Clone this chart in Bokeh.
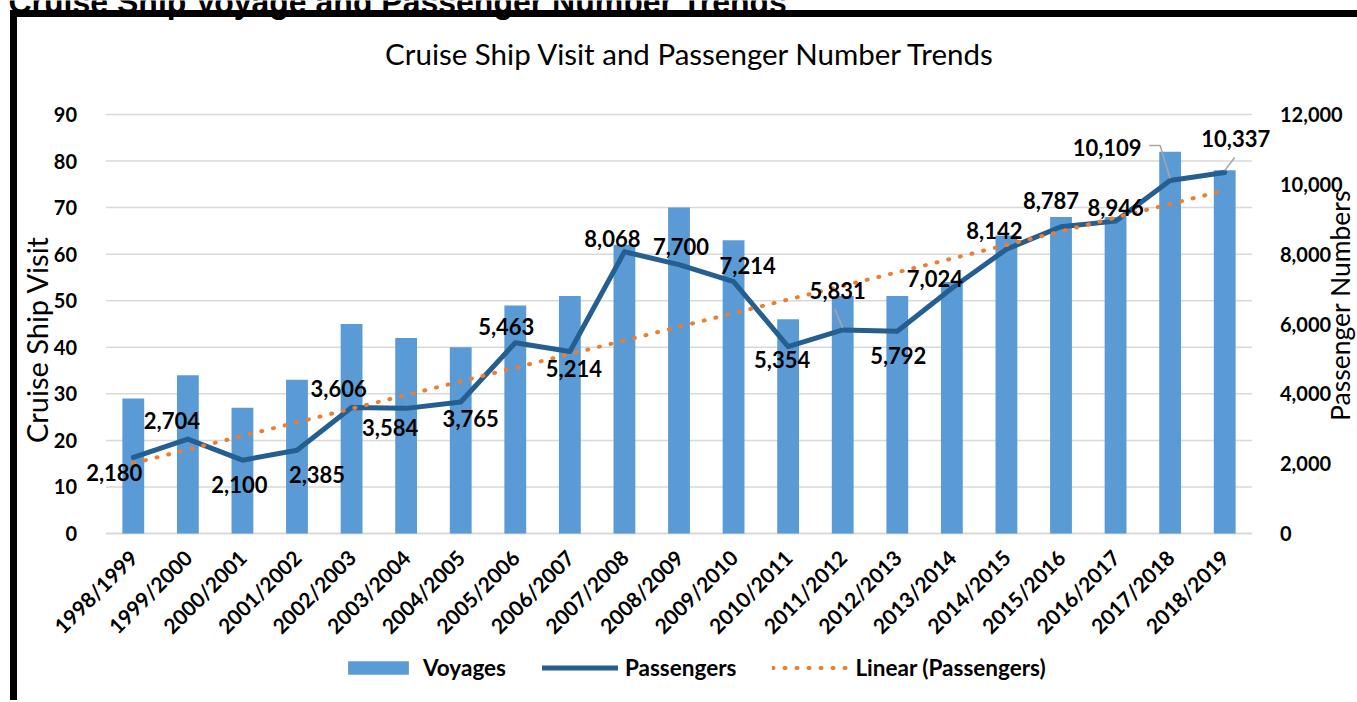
import numpy as np
from bokeh.plotting import figure
from bokeh.models import (ColumnDataSource, FactorRange, Range1d, LinearAxis, Label,
                          Legend, LegendItem, FixedTicker, NumeralTickFormatter)
from bokeh.embed import file_html
from bokeh.resources import INLINE

# ---------------- data ----------------
seasons = ["1998/1999", "1999/2000", "2000/2001", "2001/2002", "2002/2003", "2003/2004",
           "2004/2005", "2005/2006", "2006/2007", "2007/2008", "2008/2009", "2009/2010",
           "2010/2011", "2011/2012", "2012/2013", "2013/2014", "2014/2015", "2015/2016",
           "2016/2017", "2017/2018", "2018/2019"]
voyages = [29, 34, 27, 33, 45, 42, 40, 49, 51, 62, 70, 63, 46, 51, 51, 54, 64, 68, 68, 82, 78]
passengers = [2180, 2704, 2100, 2385, 3606, 3584, 3765, 5463, 5214, 8068, 7700, 7214,
              5354, 5831, 5792, 7024, 8142, 8787, 8946, 10109, 10337]
left_ticks = [0, 10, 20, 30, 40, 50, 60, 70, 80, 90]
right_ticks = [0, 2000, 4000, 6000, 8000, 10000, 12000]

# data-label offsets (screen px, style only)
label_dx = [-19, -16, -3, 20, -13, -16, 10, -9, 4, -12, 2, 14, -6, -5, 1, -17, -12, -10, 0, -63, 11]
label_dy = [-15, 19, -24, -24, 19, -19, -16, 16, -17, 13, 18, 16, -13, 39, -24, 10, 19, 26, 14, 33, 34]
# leader lines: (index, [(dx, dy) px])
leaders = [(13, [(-8, 21), (0, 2)]),
           (19, [(-21, 35), (-10, 35), (0, 2)]),
           (20, [(10, 15), (0, 2)])]

# ---------------- layout ----------------
W, H = 1357, 700
FL, FR, FT, FB = 104, 1250, 114, 533     # plot area (page px)
LABEL_FONT = "Lato"
N = len(seasons)
cat_px = (FR - FL) / N
pad = (W / cat_px - N) / 2
ly0, ly1 = 0, 90
ry0, ry1 = 0, 12000
lpp = (ly1 - ly0) / (FB - FT)
rpp = (ry1 - ry0) / (FB - FT)

p = figure(x_range=FactorRange(*seasons, range_padding=pad, range_padding_units="absolute"),
           y_range=Range1d(ly0 - (H - FB) * lpp, ly1 + FT * lpp),
           width=W, height=H, output_backend="svg", toolbar_location=None,
           min_border=0)
p.extra_y_ranges = {"pax": Range1d(ry0 - (H - FB) * rpp, ry1 + FT * rpp)}
p.outline_line_color = None
p.border_fill_alpha = 0
p.background_fill_alpha = 0
p.styles = {
    "background": "linear-gradient(#000,#000) 10px 10px / 7px calc(100% - 10px) no-repeat, "
                  "linear-gradient(#000,#000) 10px 10px / calc(100% - 10px) 7px no-repeat, #fff",
}
p.xgrid.grid_line_color = None
p.ygrid.grid_line_color = None

# axes (placed at the edges of the plot area)
lax = p.yaxis[0]
lax.ticker = FixedTicker(ticks=left_ticks)
lax.fixed_location = 0
rax = LinearAxis(y_range_name="pax", ticker=FixedTicker(ticks=right_ticks),
                 formatter=NumeralTickFormatter(format="0,0"), fixed_location=N)
p.add_layout(rax, "right")
for ax in (lax, rax):
    ax.axis_line_color = None
    ax.major_tick_line_color = None
    ax.minor_tick_line_color = None
    ax.major_label_text_font = LABEL_FONT
    ax.major_label_text_font_style = "bold"
    ax.major_label_text_font_size = "20px"
    ax.major_label_text_color = "black"
lax.major_label_standoff = 23
rax.major_label_standoff = 22

xa = p.xaxis[0]
xa.fixed_location = 0
xa.axis_line_color = None
xa.major_tick_line_color = None
xa.minor_tick_line_color = None
xa.major_label_orientation = np.pi / 4
xa.major_label_standoff = 14
xa.major_label_text_font = LABEL_FONT
xa.major_label_text_font_style = "bold"
xa.major_label_text_font_size = "21px"
xa.major_label_text_color = "black"

# ---------------- glyphs ----------------
# horizontal gridlines across the category extent
p.segment(x0=[0] * len(left_ticks), x1=[N] * len(left_ticks), y0=left_ticks, y1=left_ticks,
          line_color="#d9d9d9", line_width=[2] + [1.5] * (len(left_ticks) - 1))

src = ColumnDataSource(dict(season=seasons, voyages=voyages, pax=passengers))
bars = p.vbar(x="season", top="voyages", width=0.4, source=src,
              fill_color="#5B9BD5", line_color=None)
pline = p.line(x="season", y="pax", source=src, y_range_name="pax",
               line_color="#255E91", line_width=5, line_join="round", line_cap="round")

idx = np.arange(N)
coef = np.polyfit(idx, passengers, 1)
trend = np.polyval(coef, idx)
tline = p.line(x=seasons, y=list(trend), y_range_name="pax",
               line_color="#ED7D31", line_width=4, line_dash="1 11", line_cap="round")

# leader lines
lx, lyy = [], []
for i, pts in leaders:
    lx.append([i + 0.5 + dxp / cat_px for dxp, _ in pts])
    lyy.append([passengers[i] + dyp * rpp for _, dyp in pts])
p.multi_line(xs=lx, ys=lyy, y_range_name="pax", line_color="#A6A6A6", line_width=1.5)

# ---------------- texts ----------------
def screen_label(text, px, py, **kw):
    return Label(x=px, y=H - py, x_units="screen", y_units="screen", text=text, **kw)

p.add_layout(screen_label("Cruise Ship Voyage and Passenger Number Trends", 8, 1,
                          text_align="left", text_baseline="alphabetic",
                          text_font="Liberation Sans", text_font_style="bold",
                          text_font_size="32px", text_color="black"))
p.add_layout(screen_label("Cruise Ship Visit and Passenger Number Trends", 690, 53,
                          text_align="center", text_baseline="middle",
                          text_font=LABEL_FONT, text_font_size="29.5px", text_color="black"))
p.add_layout(screen_label("Cruise Ship Visit", 36, 339, angle=np.pi / 2,
                          text_align="center", text_baseline="middle",
                          text_font=LABEL_FONT, text_font_size="29px", text_color="black"))
p.add_layout(screen_label("Passenger Numbers", 1339, 305, angle=np.pi / 2,
                          text_align="center", text_baseline="middle",
                          text_font=LABEL_FONT, text_font_size="26.5px", text_color="black"))

# data labels (one Label per point, data coordinates + pixel offsets)
for i, v in enumerate(passengers):
    p.add_layout(Label(x=i + 0.5, y=v, y_range_name="pax", text=f"{v:,}",
                       x_offset=label_dx[i], y_offset=label_dy[i],
                       text_align="center", text_baseline="middle",
                       text_font=LABEL_FONT, text_font_style="bold",
                       text_font_size="22px", text_color="black"))

# ---------------- legend ----------------
legend = Legend(items=[LegendItem(label="Voyages", renderers=[bars]),
                       LegendItem(label="Passengers", renderers=[pline]),
                       LegendItem(label="Linear (Passengers)", renderers=[tline])],
                orientation="horizontal", location=(340, H - 681),
                glyph_width=76, glyph_height=17, label_standoff=7, spacing=36,
                padding=0, margin=0, border_line_color=None, background_fill_alpha=0,
                label_text_font=LABEL_FONT, label_text_font_style="bold",
                label_text_font_size="22.5px", label_text_color="black")
p.add_layout(legend)

open("out.html", "w").write(file_html(p, INLINE))
